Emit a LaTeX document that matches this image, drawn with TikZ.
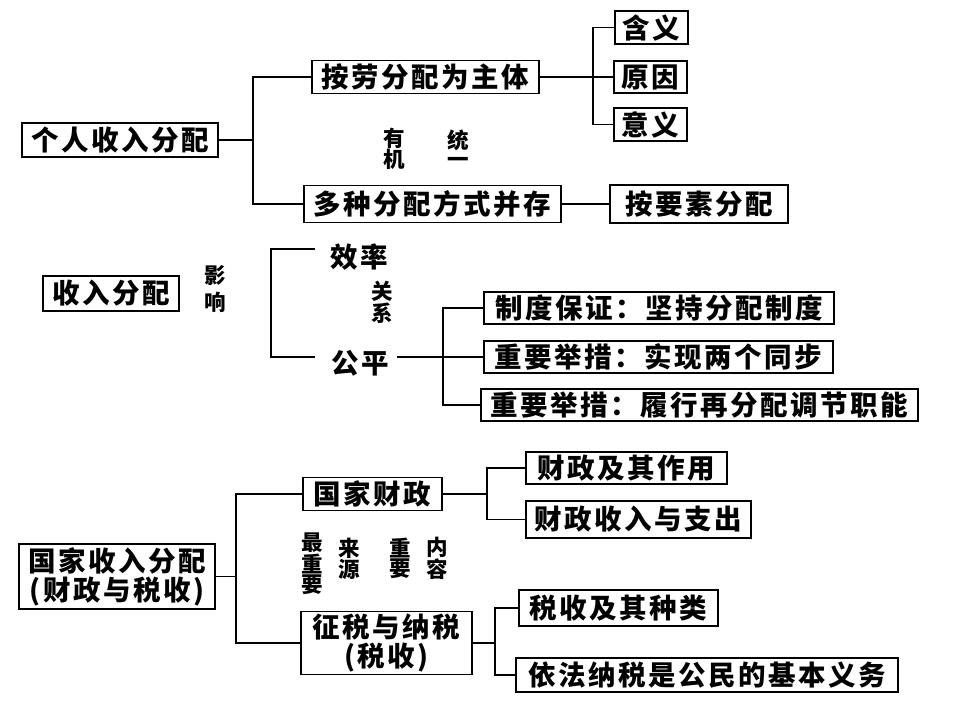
\documentclass[tikz,border=0pt]{standalone}
\usepackage{fontspec}
\setmainfont{Noto Sans CJK SC}
\newfontfamily\cjkls{Noto Sans CJK SC}[LetterSpace=9]
\newfontfamily\cjk{Noto Sans CJK SC}
\newcommand\boxfont{\cjkls\bfseries\fontsize{27.5pt}{29pt}\selectfont}
\newcommand\lblfont{\cjk\bfseries\fontsize{21.5pt}{19pt}\selectfont}
\tikzset{
  bx/.style={draw, line width=1.8pt, inner sep=0pt, font=\boxfont, align=center},
  plain/.style={inner sep=0pt, font=\boxfont},
  lbl/.style={inner sep=0pt, font=\lblfont, align=center},
  ln/.style={line width=1.8pt}
}
\begin{document}
\begin{tikzpicture}[x=1pt,y=-1pt]
\useasboundingbox (0,0) rectangle (960,720);
% ---------- section 1 ----------
\node[bx, minimum width=196pt, minimum height=34pt] (p1) at (120,140) {个人收入分配};
\node[bx, minimum width=227pt, minimum height=33pt] (p2) at (425.5,77) {按劳分配为主体};
\node[bx, minimum width=257pt, minimum height=37pt] (p3) at (432.5,204) {多种分配方式并存};
\node[bx, minimum width=178pt, minimum height=38pt] (p4) at (699,204) {按要素分配};
\node[bx, minimum width=73pt, minimum height=33pt] (p5) at (651.5,27.5) {含义};
\node[bx, minimum width=73pt, minimum height=32pt] (p6) at (650.5,77) {原因};
\node[bx, minimum width=73pt, minimum height=33pt] (p7) at (650.5,124.5) {意义};
\coordinate (j1) at (253,140);
\coordinate (j2) at (593,77);
\draw[ln] (p1.east) -- (j1) (j1) |- (p2.west) (j1) |- (p3.west);
\draw[ln] (p2.east) -- (p6.west) (j2) |- (p5.west) (j2) |- (p7.west);
\draw[ln] (p3.east) -- (p4.west);
\node[lbl] (l1a) at (394,149) {有\\机};
\node[lbl] (l1c) at (458,149) {统\\一};
% ---------- section 2 ----------
\node[bx, minimum width=136pt, minimum height=35pt] (q1) at (111,293.5) {收入分配};
\node[lbl] (l2a) at (215,289) {影\\[6pt]响};
\node[plain] (q2) at (359,257) {效率};
\node[plain] (q3) at (360,363) {公平};
\node[lbl] (l2c) at (382,302.5) {关\\系};
\coordinate (b1) at (315,249);
\coordinate (b2) at (315,357);
\draw[ln] (b1) -- ++(-44,0) |- (b2);
\node[bx, minimum width=350pt, minimum height=32pt] (r1) at (659,308) {制度保证：坚持分配制度};
\node[bx, minimum width=349pt, minimum height=32pt] (r2) at (658.5,357) {重要举措：实现两个同步};
\node[bx, minimum width=437pt, minimum height=32pt] (r3) at (699.5,405) {重要举措：履行再分配调节职能};
\coordinate (j3) at (443,357);
\draw[ln] ([xshift=8pt]q3.east |- j3) -- (r2.west) (j3) |- (r1.west) (j3) |- (r3.west);
% ---------- section 3 ----------
\node[bx, minimum width=196pt, minimum height=65pt] (s1) at (117,576.5) {国家收入分配\\(财政与税收)};
\node[bx, minimum width=139pt, minimum height=33pt] (s2) at (372.5,494) {国家财政};
\node[bx, minimum width=171pt, minimum height=63pt] (s3) at (386.5,643) {征税与纳税\\(税收)};
\node[bx, minimum width=201pt, minimum height=32pt] (s4) at (626.5,468) {财政及其作用};
\node[bx, minimum width=225pt, minimum height=37pt] (s5) at (638.5,519.5) {财政收入与支出};
\node[bx, minimum width=199pt, minimum height=36pt] (s6) at (618.5,608) {税收及其种类};
\node[bx, minimum width=382pt, minimum height=34pt] (s7) at (707,675) {依法纳税是公民的基本义务};
\coordinate (j4) at (236,576.5);
\coordinate (j5) at (487,494);
\coordinate (j6) at (495,643);
\draw[ln] (s1.east) -- (j4) (j4) |- (s2.west) (j4) |- (s3.west);
\draw[ln] (s2.east) -- (j5) (j5) |- (s4.west) (j5) |- (s5.west);
\draw[ln] (s3.east) -- (j6) (j6) |- (s6.west) (j6) |- (s7.west);
\node[lbl] (m1) at (312,564) {最\\重\\要};
\node[lbl] (m4) at (349,558.5) {来\\源};
\node[lbl] (m6) at (400,558.5) {重\\要};
\node[lbl] (m8) at (437,558.5) {内\\容};
\end{tikzpicture}
\end{document}
